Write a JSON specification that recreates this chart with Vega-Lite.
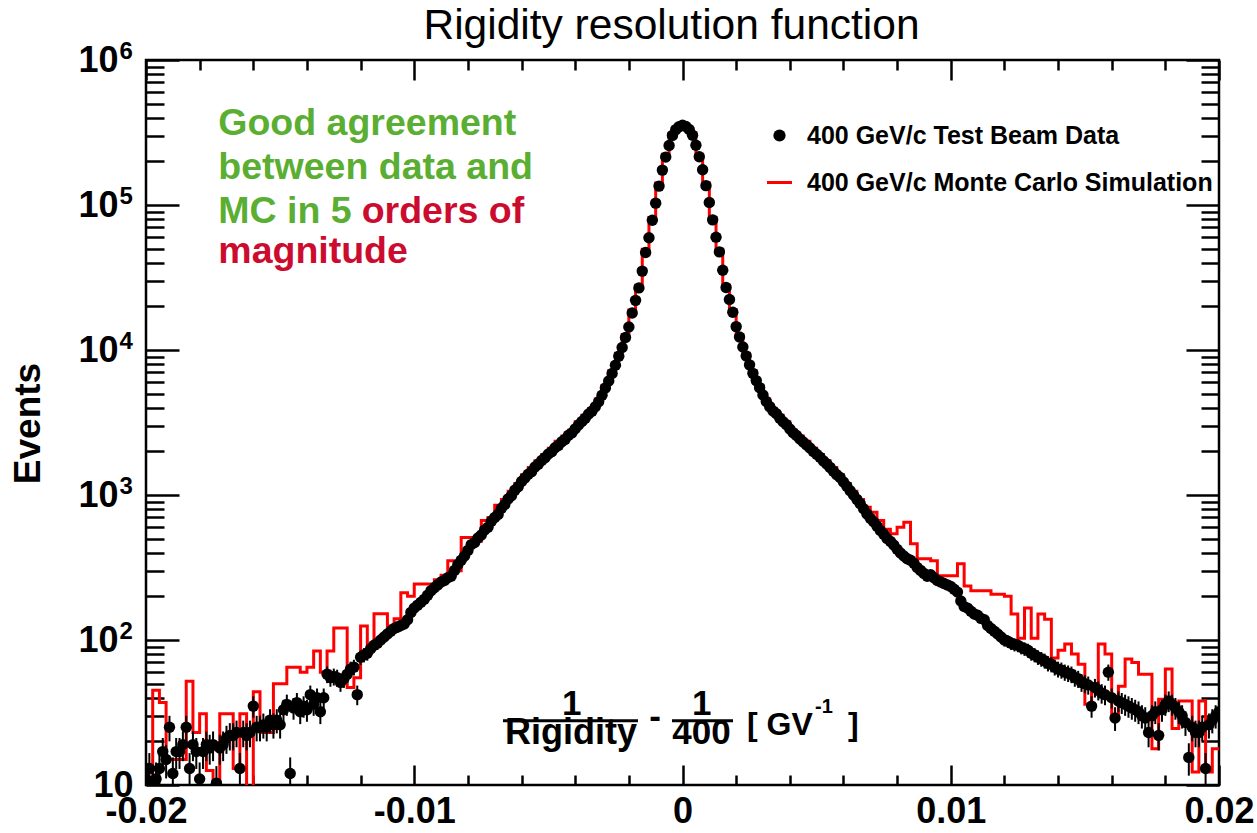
{
"$schema": "https://vega.github.io/schema/vega-lite/v6.json",
"width": 1073, "height": 725,
"autosize": "none",
"padding": {"left": 146, "top": 60, "right": 38, "bottom": 48},
"background": "white",
"config": {
  "view": {"stroke": "black", "strokeWidth": 2.5},
  "font": "Liberation Sans",
  "axis": {"domain": false, "grid": false, "tickColor": "black", "tickWidth": 2.5, "labelColor": "black", "labelFont": "Liberation Sans", "labelFontWeight": "bold", "labelFontSize": 36, "labelOverlap": false, "labelFlush": false, "titleColor": "black"}
},
"title": {"text": "Rigidity resolution function", "font": "Liberation Sans", "fontSize": 42.5, "fontWeight": "normal", "color": "black", "anchor": "middle", "frame": "group", "baseline": "alphabetic", "offset": -42, "dx": -11},
"datasets": {
"pts": [
{"x":-0.02,"y":11,"e":3.3},{"x":-0.019875,"y":13,"e":3.6},{"x":-0.01975,"y":10.5,"e":3.2},{"x":-0.019625,"y":11,"e":3.3},{"x":-0.0195,"y":13,"e":3.6},{"x":-0.019375,"y":17,"e":4.1},{"x":-0.01925,"y":15,"e":3.9},{"x":-0.019125,"y":25,"e":5},{"x":-0.019,"y":12,"e":3.5},{"x":-0.018875,"y":17,"e":4.1},{"x":-0.01875,"y":17,"e":4.1},{"x":-0.018625,"y":19,"e":4.4},{"x":-0.0185,"y":25,"e":5},{"x":-0.018375,"y":13,"e":3.6},{"x":-0.01825,"y":19,"e":4.4},{"x":-0.018125,"y":17,"e":4.1},{"x":-0.018,"y":11,"e":3.3},{"x":-0.017875,"y":17,"e":4.1},{"x":-0.01775,"y":19,"e":4.4},{"x":-0.017625,"y":18,"e":4.2},{"x":-0.0175,"y":19,"e":4.4},{"x":-0.017375,"y":10.3,"e":3.2},{"x":-0.01725,"y":18,"e":4.2},{"x":-0.017125,"y":19,"e":4.4},{"x":-0.017,"y":21,"e":4.6},{"x":-0.016875,"y":22,"e":4.7},{"x":-0.01675,"y":22,"e":4.7},{"x":-0.016625,"y":23,"e":4.8},{"x":-0.0165,"y":13,"e":3.6},{"x":-0.016375,"y":23,"e":4.8},{"x":-0.01625,"y":22,"e":4.7},{"x":-0.016125,"y":23,"e":4.8},{"x":-0.016,"y":35,"e":5.9},{"x":-0.015875,"y":25,"e":5},{"x":-0.01575,"y":25,"e":5},{"x":-0.015625,"y":26,"e":5.1},{"x":-0.0155,"y":25,"e":5},{"x":-0.015375,"y":28,"e":5.3},{"x":-0.01525,"y":26,"e":5.1},{"x":-0.015125,"y":28,"e":5.3},{"x":-0.015,"y":26,"e":5.1},{"x":-0.014875,"y":33,"e":5.7},{"x":-0.01475,"y":36,"e":6},{"x":-0.014625,"y":12,"e":3.5},{"x":-0.0145,"y":34,"e":5.8},{"x":-0.014375,"y":37,"e":6.1},{"x":-0.01425,"y":32,"e":5.7},{"x":-0.014125,"y":35,"e":5.9},{"x":-0.014,"y":33,"e":5.7},{"x":-0.013875,"y":42,"e":6.5},{"x":-0.01375,"y":36,"e":6},{"x":-0.013625,"y":40,"e":6.3},{"x":-0.0135,"y":32,"e":5.7},{"x":-0.013375,"y":40,"e":6.3},{"x":-0.01325,"y":58,"e":7.6},{"x":-0.013125,"y":55,"e":7.4},{"x":-0.013,"y":56,"e":7.5},{"x":-0.012875,"y":55,"e":7.4},{"x":-0.01275,"y":51,"e":7.1},{"x":-0.012625,"y":54,"e":7.3},{"x":-0.0125,"y":58,"e":7.6},{"x":-0.012375,"y":63,"e":7.9},{"x":-0.01225,"y":65,"e":8.1},{"x":-0.012125,"y":42,"e":6.5},{"x":-0.012,"y":76,"e":8.7},{"x":-0.011875,"y":79,"e":8.9},{"x":-0.01175,"y":81,"e":9},{"x":-0.011625,"y":87,"e":9.3},{"x":-0.0115,"y":92,"e":9.6},{"x":-0.011375,"y":95,"e":9.7},{"x":-0.01125,"y":100,"e":10},{"x":-0.011125,"y":105,"e":10.2},{"x":-0.011,"y":110,"e":10.5},{"x":-0.010875,"y":115,"e":10.7},{"x":-0.01075,"y":120,"e":11},{"x":-0.010625,"y":123,"e":11.1},{"x":-0.0105,"y":126,"e":11.2},
{"x":-0.010375,"y":129},{"x":-0.01025,"y":138},{"x":-0.010125,"y":155},{"x":-0.01,"y":166},{"x":-0.009875,"y":174},{"x":-0.00975,"y":182},{"x":-0.009625,"y":191},{"x":-0.0095,"y":204},{"x":-0.009375,"y":219},{"x":-0.00925,"y":229},{"x":-0.009125,"y":240},{"x":-0.009,"y":251},{"x":-0.008875,"y":257},{"x":-0.00875,"y":269},{"x":-0.008625,"y":275},{"x":-0.0085,"y":302},{"x":-0.008375,"y":331},{"x":-0.00825,"y":355},{"x":-0.008125,"y":380},{"x":-0.008,"y":415},{"x":-0.007875,"y":455},{"x":-0.00775,"y":470},{"x":-0.007625,"y":505},{"x":-0.0075,"y":530},{"x":-0.007375,"y":575},{"x":-0.00725,"y":600},{"x":-0.007125,"y":660},{"x":-0.007,"y":700},{"x":-0.006875,"y":735},{"x":-0.00675,"y":810},{"x":-0.006625,"y":860},{"x":-0.0065,"y":940},{"x":-0.006375,"y":990},{"x":-0.00625,"y":1080},{"x":-0.006125,"y":1140},{"x":-0.006,"y":1240},{"x":-0.005875,"y":1310},{"x":-0.00575,"y":1390},{"x":-0.005625,"y":1450},{"x":-0.0055,"y":1560},{"x":-0.005375,"y":1630},{"x":-0.00525,"y":1730},{"x":-0.005125,"y":1810},{"x":-0.005,"y":1920},{"x":-0.004875,"y":1990},{"x":-0.00475,"y":2120},{"x":-0.004625,"y":2200},{"x":-0.0045,"y":2330},{"x":-0.004375,"y":2420},{"x":-0.00425,"y":2580},{"x":-0.004125,"y":2680},{"x":-0.004,"y":2860},{"x":-0.003875,"y":3040},{"x":-0.00375,"y":3210},{"x":-0.003625,"y":3380},{"x":-0.0035,"y":3620},{"x":-0.003375,"y":3790},{"x":-0.00325,"y":4060},{"x":-0.003125,"y":4400},{"x":-0.003,"y":4880},{"x":-0.002875,"y":5480},{"x":-0.00275,"y":6120},{"x":-0.002625,"y":6880},{"x":-0.0025,"y":7850},{"x":-0.002375,"y":9050},{"x":-0.00225,"y":10400},{"x":-0.002125,"y":12200},{"x":-0.002,"y":14400},{"x":-0.001875,"y":18000},{"x":-0.00175,"y":22000},{"x":-0.001625,"y":26800},{"x":-0.0015,"y":35000},{"x":-0.001375,"y":47000},{"x":-0.00125,"y":59500},{"x":-0.001125,"y":78500},{"x":-0.001,"y":103000},{"x":-0.000875,"y":135000},{"x":-0.00075,"y":174000},{"x":-0.000625,"y":214000},{"x":-0.0005,"y":257000},{"x":-0.000375,"y":302000},{"x":-0.00025,"y":331000},{"x":-0.000125,"y":347000},
{"x":0,"y":355000},{"x":0.000125,"y":348000},{"x":0.00025,"y":332000},{"x":0.000375,"y":303000},{"x":0.0005,"y":258000},{"x":0.000625,"y":215000},{"x":0.00075,"y":175000},{"x":0.000875,"y":136000},{"x":0.001,"y":104000},{"x":0.001125,"y":79000},{"x":0.00125,"y":60000},{"x":0.001375,"y":47500},{"x":0.0015,"y":35500},{"x":0.001625,"y":27000},{"x":0.00175,"y":22300},{"x":0.001875,"y":18200},{"x":0.002,"y":14500},{"x":0.002125,"y":12300},{"x":0.00225,"y":10500},{"x":0.002375,"y":9100},{"x":0.0025,"y":7900},{"x":0.002625,"y":6900},{"x":0.00275,"y":6150},{"x":0.002875,"y":5500},{"x":0.003,"y":4900},{"x":0.003125,"y":4420},{"x":0.00325,"y":4070},{"x":0.003375,"y":3800},{"x":0.0035,"y":3630},{"x":0.003625,"y":3390},{"x":0.00375,"y":3200},{"x":0.003875,"y":3050},{"x":0.004,"y":2850},{"x":0.004125,"y":2690},{"x":0.00425,"y":2570},{"x":0.004375,"y":2430},{"x":0.0045,"y":2320},{"x":0.004625,"y":2210},{"x":0.00475,"y":2110},{"x":0.004875,"y":2000},{"x":0.005,"y":1910},{"x":0.005125,"y":1820},{"x":0.00525,"y":1720},{"x":0.005375,"y":1640},{"x":0.0055,"y":1550},{"x":0.005625,"y":1460},{"x":0.00575,"y":1380},{"x":0.005875,"y":1320},{"x":0.006,"y":1230},{"x":0.006125,"y":1150},{"x":0.00625,"y":1070},{"x":0.006375,"y":1000},{"x":0.0065,"y":933},{"x":0.006625,"y":871},{"x":0.00675,"y":804},{"x":0.006875,"y":741},{"x":0.007,"y":692},{"x":0.007125,"y":653},{"x":0.00725,"y":610},{"x":0.007375,"y":569},{"x":0.0075,"y":537},{"x":0.007625,"y":501},{"x":0.00775,"y":479},{"x":0.007875,"y":452},{"x":0.008,"y":422},{"x":0.008125,"y":398},{"x":0.00825,"y":380},{"x":0.008375,"y":363},{"x":0.0085,"y":355},{"x":0.008625,"y":339},{"x":0.00875,"y":316},{"x":0.008875,"y":302},{"x":0.009,"y":288},{"x":0.009125,"y":275},{"x":0.00925,"y":282},{"x":0.009375,"y":269},{"x":0.0095,"y":257},{"x":0.009625,"y":251},{"x":0.00975,"y":245},{"x":0.009875,"y":240},{"x":0.01,"y":234},{"x":0.010125,"y":224},{"x":0.01025,"y":214},{"x":0.010375,"y":186},{"x":0.0105,"y":170},{"x":0.010625,"y":166},{"x":0.01075,"y":158},{"x":0.010875,"y":151},{"x":0.011,"y":148},{"x":0.011125,"y":141},{"x":0.01125,"y":138},
{"x":0.011375,"y":126,"e":11.2},{"x":0.0115,"y":120,"e":11},{"x":0.011625,"y":115,"e":10.7},{"x":0.01175,"y":110,"e":10.5},{"x":0.011875,"y":105,"e":10.2},{"x":0.012,"y":100,"e":10},{"x":0.012125,"y":98,"e":9.9},{"x":0.01225,"y":95,"e":9.7},{"x":0.012375,"y":93,"e":9.6},{"x":0.0125,"y":92,"e":9.6},{"x":0.012625,"y":89,"e":9.4},{"x":0.01275,"y":87,"e":9.3},{"x":0.012875,"y":85,"e":9.2},{"x":0.013,"y":81,"e":9},{"x":0.013125,"y":79,"e":8.9},{"x":0.01325,"y":76,"e":8.7},{"x":0.013375,"y":74,"e":8.6},{"x":0.0135,"y":72,"e":8.5},{"x":0.013625,"y":69,"e":8.3},{"x":0.01375,"y":68,"e":8.2},{"x":0.013875,"y":65,"e":8.1},{"x":0.014,"y":63,"e":7.9},{"x":0.014125,"y":62,"e":7.9},{"x":0.01425,"y":60,"e":7.7},{"x":0.014375,"y":59,"e":7.7},{"x":0.0145,"y":58,"e":7.6},{"x":0.014625,"y":55,"e":7.4},{"x":0.01475,"y":54,"e":7.3},{"x":0.014875,"y":51,"e":7.1},{"x":0.015,"y":50,"e":7.1},{"x":0.015125,"y":49,"e":7},{"x":0.01525,"y":35,"e":5.9},{"x":0.015375,"y":47,"e":6.9},{"x":0.0155,"y":45,"e":6.7},{"x":0.015625,"y":43,"e":6.6},{"x":0.01575,"y":42,"e":6.5},{"x":0.015875,"y":60,"e":7.7},{"x":0.016,"y":40,"e":6.3},{"x":0.016125,"y":29,"e":5.4},{"x":0.01625,"y":38,"e":6.2},{"x":0.016375,"y":37,"e":6.1},{"x":0.0165,"y":36,"e":6},{"x":0.016625,"y":35,"e":5.9},{"x":0.01675,"y":34,"e":5.8},{"x":0.016875,"y":33,"e":5.7},{"x":0.017,"y":32,"e":5.7},{"x":0.017125,"y":30,"e":5.5},{"x":0.01725,"y":29,"e":5.4},{"x":0.017375,"y":23,"e":4.8},{"x":0.0175,"y":30,"e":5.5},{"x":0.017625,"y":32,"e":5.7},{"x":0.01775,"y":22,"e":4.7},{"x":0.017875,"y":33,"e":5.7},{"x":0.018,"y":36,"e":6},{"x":0.018125,"y":38,"e":6.2},{"x":0.01825,"y":36,"e":6},{"x":0.018375,"y":34,"e":5.8},{"x":0.0185,"y":32,"e":5.7},{"x":0.018625,"y":30,"e":5.5},{"x":0.01875,"y":27,"e":5.2},{"x":0.018875,"y":15.5,"e":3.9},{"x":0.019,"y":25,"e":5},{"x":0.019125,"y":23,"e":4.8},{"x":0.01925,"y":23,"e":4.8},{"x":0.019375,"y":25,"e":5},{"x":0.0195,"y":13,"e":3.6},{"x":0.019625,"y":26,"e":5.1},{"x":0.01975,"y":28,"e":5.3},{"x":0.019875,"y":30,"e":5.5},{"x":0.02,"y":32,"e":5.7}
],
"mc": [
{"x":-0.02,"y":5},{"x":-0.01975,"y":45},{"x":-0.0195,"y":37},{"x":-0.01925,"y":15},{"x":-0.019,"y":15},{"x":-0.01875,"y":15},{"x":-0.0185,"y":52},{"x":-0.01825,"y":23},{"x":-0.018,"y":31},{"x":-0.01775,"y":12.6},{"x":-0.0175,"y":5},{"x":-0.01725,"y":31},{"x":-0.017,"y":31},{"x":-0.01675,"y":13},{"x":-0.0165,"y":31},{"x":-0.01625,"y":5},{"x":-0.016,"y":44},{"x":-0.01575,"y":23},{"x":-0.0155,"y":23},{"x":-0.01525,"y":50},{"x":-0.015,"y":50},{"x":-0.01475,"y":65},{"x":-0.0145,"y":65},{"x":-0.01425,"y":60},{"x":-0.014,"y":65},{"x":-0.01375,"y":84},{"x":-0.0135,"y":60},{"x":-0.01325,"y":84},{"x":-0.013,"y":121},{"x":-0.01275,"y":121},{"x":-0.0125,"y":47},{"x":-0.01225,"y":55},{"x":-0.012,"y":125},{"x":-0.01175,"y":90},{"x":-0.0115,"y":152},{"x":-0.01125,"y":152},{"x":-0.011,"y":125},{"x":-0.01075,"y":140},{"x":-0.0105,"y":212},{"x":-0.01025,"y":200},{"x":-0.01,"y":243},{"x":-0.00975,"y":243},{"x":-0.0095,"y":243},{"x":-0.00925,"y":260},{"x":-0.009,"y":280},{"x":-0.00875,"y":352},{"x":-0.0085,"y":300},{"x":-0.00825,"y":510},{"x":-0.008,"y":510},{"x":-0.00775,"y":480},{"x":-0.0075,"y":666},{"x":-0.00725,"y":700},{"x":-0.007,"y":850},{"x":-0.00675,"y":930},{"x":-0.0065,"y":1060},{"x":-0.00625,"y":1200},{"x":-0.006,"y":1380},{"x":-0.00575,"y":1550},{"x":-0.0055,"y":1720},{"x":-0.00525,"y":1900},{"x":-0.005,"y":2100},{"x":-0.00475,"y":2350},{"x":-0.0045,"y":2550},{"x":-0.00425,"y":2800},{"x":-0.004,"y":3200},{"x":-0.00375,"y":3550},{"x":-0.0035,"y":3950},{"x":-0.00325,"y":4600},{"x":-0.003,"y":5700},{"x":-0.00275,"y":7200},{"x":-0.0025,"y":9500},{"x":-0.00225,"y":12800},{"x":-0.002,"y":18900},{"x":-0.00175,"y":28000},{"x":-0.0015,"y":49500},{"x":-0.00125,"y":82000},{"x":-0.001,"y":142000},{"x":-0.00075,"y":224000},{"x":-0.0005,"y":312000},{"x":-0.00025,"y":355000},
{"x":0,"y":355000},{"x":0.00025,"y":312000},{"x":0.0005,"y":224000},{"x":0.00075,"y":142000},{"x":0.001,"y":82000},{"x":0.00125,"y":49500},{"x":0.0015,"y":28000},{"x":0.00175,"y":18900},{"x":0.002,"y":12800},{"x":0.00225,"y":9500},{"x":0.0025,"y":7200},{"x":0.00275,"y":5700},{"x":0.003,"y":4600},{"x":0.00325,"y":3950},{"x":0.0035,"y":3550},{"x":0.00375,"y":3200},{"x":0.004,"y":2800},{"x":0.00425,"y":2550},{"x":0.0045,"y":2350},{"x":0.00475,"y":2100},{"x":0.005,"y":1900},{"x":0.00525,"y":1720},{"x":0.0055,"y":1550},{"x":0.00575,"y":1380},{"x":0.006,"y":1200},{"x":0.00625,"y":1060},{"x":0.0065,"y":930},{"x":0.00675,"y":824},{"x":0.007,"y":760},{"x":0.00725,"y":666},{"x":0.0075,"y":580},{"x":0.00775,"y":540},{"x":0.008,"y":600},{"x":0.00825,"y":649},{"x":0.0085,"y":461},{"x":0.00875,"y":363},{"x":0.009,"y":363},{"x":0.00925,"y":352},{"x":0.0095,"y":277},{"x":0.00975,"y":277},{"x":0.01,"y":277},{"x":0.01025,"y":336},{"x":0.0105,"y":236},{"x":0.01075,"y":219},{"x":0.011,"y":219},{"x":0.01125,"y":219},{"x":0.0115,"y":207},{"x":0.01175,"y":207},{"x":0.012,"y":200},{"x":0.01225,"y":151},{"x":0.0125,"y":103},{"x":0.01275,"y":166},{"x":0.013,"y":103},{"x":0.01325,"y":151},{"x":0.0135,"y":139},{"x":0.01375,"y":75},{"x":0.014,"y":85},{"x":0.01425,"y":94},{"x":0.0145,"y":80},{"x":0.01475,"y":68},{"x":0.015,"y":36},{"x":0.01525,"y":48},{"x":0.0155,"y":94},{"x":0.01575,"y":80},{"x":0.016,"y":29},{"x":0.01625,"y":48},{"x":0.0165,"y":74},{"x":0.01675,"y":70},{"x":0.017,"y":58},{"x":0.01725,"y":58},{"x":0.0175,"y":17.8},{"x":0.01775,"y":39},{"x":0.018,"y":63},{"x":0.01825,"y":24.5},{"x":0.0185,"y":38},{"x":0.01875,"y":38},{"x":0.019,"y":12.3},{"x":0.01925,"y":38},{"x":0.0195,"y":12.3},{"x":0.01975,"y":17.8},{"x":0.02,"y":17.8}
]
},
"layer": [
{
  "data": {"name": "mc"},
  "mark": {"type": "line", "interpolate": "step-after", "strokeWidth": 3, "clip": true},
  "encoding": {
    "x": {"field": "x", "type": "quantitative", "scale": {"domain": [-0.02, 0.02], "nice": false, "zero": false},
      "axis": {"orient": "bottom", "values": [-0.02,-0.018,-0.016,-0.014,-0.012,-0.01,-0.008,-0.006,-0.004,-0.002,0,0.002,0.004,0.006,0.008,0.01,0.012,0.014,0.016,0.018,0.02],
        "tickSize": {"condition": {"test": "abs(datum.value*100 - round(datum.value*100)) < 0.0001", "value": -20}, "value": -10},
        "labelExpr": "abs(datum.value*100 - round(datum.value*100)) < 0.0001 ? (abs(datum.value) < 0.0001 ? '0' : replace(format(datum.value, '.2f'), '\u2212', '-')) : ''",
        "labelPadding": 29, "labelBaseline": "top", "labelAlign": "center", "title": null}},
    "y": {"field": "y", "type": "quantitative", "scale": {"type": "log", "domain": [10, 1000000], "nice": false},
      "axis": {"orient": "left", "values": [10,20,30,40,50,60,70,80,90,100,200,300,400,500,600,700,800,900,1000,2000,3000,4000,5000,6000,7000,8000,9000,10000,20000,30000,40000,50000,60000,70000,80000,90000,100000,200000,300000,400000,500000,600000,700000,800000,900000,1000000],
        "tickSize": {"condition": {"test": "indexof([10,100,1000,10000,100000,1000000], datum.value) >= 0", "value": -33}, "value": -18},
        "labelExpr": "indexof([10,100,1000,10000,100000,1000000], datum.value) >= 0 ? '10' : ''",
        "labelPadding": {"condition": {"test": "datum.value == 10", "value": 46}, "value": 61},
        "labelAlign": "right", "labelBaseline": "middle",
        "title": "Events", "titleFont": "Liberation Sans", "titleFontSize": 37, "titleFontWeight": "bold", "titleAngle": 270, "titleX": -107, "titleY": 363, "titleBaseline": "alphabetic", "titleAlign": "center"}},
    "color": {"datum": "400 GeV/c Monte Carlo Simulation",
      "scale": {"domain": ["400 GeV/c Test Beam Data", "400 GeV/c Monte Carlo Simulation"], "range": ["black", "#ff0000"]},
      "legend": {"orient": "none", "legendX": 621, "legendY": 63, "title": null, "padding": 0,
        "labelFont": "Liberation Sans", "labelFontSize": 25, "labelFontWeight": "bold", "labelColor": "black", "labelOffset": 15, "labelLimit": 800,
        "rowPadding": 21, "symbolSize": 625,
        "encode": {"symbols": {"update": {
          "shape": {"signal": "datum.value === '400 GeV/c Test Beam Data' ? 'circle' : 'stroke'"},
          "size": {"signal": "datum.value === '400 GeV/c Test Beam Data' ? 150 : 625"},
          "fill": {"signal": "datum.value === '400 GeV/c Test Beam Data' ? 'black' : 'transparent'"},
          "stroke": {"signal": "datum.value === '400 GeV/c Test Beam Data' ? 'black' : '#ff0000'"},
          "strokeWidth": {"signal": "datum.value === '400 GeV/c Test Beam Data' ? 0 : 3"},
          "opacity": {"value": 1}}}}}}
  }
},
{
  "data": {"name": "pts"},
  "transform": [{"filter": "isValid(datum.e)"}],
  "mark": {"type": "errorbar", "color": "black", "thickness": 2, "clip": true},
  "encoding": {
    "x": {"field": "x", "type": "quantitative", "axis": null},
    "y": {"field": "y", "type": "quantitative",
      "axis": {"orient": "left", "values": [100, 1000, 10000, 100000, 1000000], "ticks": false,
        "labelExpr": "datum.value == 100 ? '2' : datum.value == 1000 ? '3' : datum.value == 10000 ? '4' : datum.value == 100000 ? '5' : '6'",
        "labelFontSize": 24, "labelAlign": "left", "labelBaseline": "middle", "labelPadding": 27, "labelOffset": -9, "title": null}},
    "yError": {"field": "e"}
  }
},
{
  "data": {"name": "pts"},
  "mark": {"type": "point", "shape": "circle", "filled": true, "size": 130, "opacity": 1, "clip": true},
  "encoding": {
    "x": {"field": "x", "type": "quantitative",
      "axis": {"orient": "top", "values": [-0.02,-0.018,-0.016,-0.014,-0.012,-0.01,-0.008,-0.006,-0.004,-0.002,0,0.002,0.004,0.006,0.008,0.01,0.012,0.014,0.016,0.018,0.02],
        "tickSize": {"condition": {"test": "abs(datum.value*100 - round(datum.value*100)) < 0.0001", "value": -20}, "value": -10},
        "labels": false, "title": null}},
    "y": {"field": "y", "type": "quantitative",
      "axis": {"orient": "right", "values": [10,20,30,40,50,60,70,80,90,100,200,300,400,500,600,700,800,900,1000,2000,3000,4000,5000,6000,7000,8000,9000,10000,20000,30000,40000,50000,60000,70000,80000,90000,100000,200000,300000,400000,500000,600000,700000,800000,900000,1000000],
        "tickSize": {"condition": {"test": "indexof([10,100,1000,10000,100000,1000000], datum.value) >= 0", "value": -33}, "value": -18},
        "labels": false, "title": null}},
    "color": {"datum": "400 GeV/c Test Beam Data"}
  }
},
{
  "data": {"values": [{}]},
  "mark": {"type": "text", "text": ["Good agreement", "between data and", "MC in 5"], "align": "left", "baseline": "alphabetic", "font": "Liberation Sans", "fontWeight": "bold", "fontSize": 37.5, "lineHeight": 44, "color": "#5aae32"},
  "encoding": {"x": {"datum": -0.017305, "axis": null}, "y": {"datum": 303900, "axis": null}}
},
{
  "data": {"values": [{}]},
  "mark": {"type": "text", "text": "orders of", "align": "left", "baseline": "alphabetic", "font": "Liberation Sans", "fontWeight": "bold", "fontSize": 37.5, "color": "#cc0c2f"},
  "encoding": {"x": {"datum": -0.011959, "axis": null}, "y": {"datum": 74790, "axis": null}}
},
{
  "data": {"values": [{}]},
  "mark": {"type": "text", "text": "magnitude", "align": "left", "baseline": "alphabetic", "font": "Liberation Sans", "fontWeight": "bold", "fontSize": 37.5, "color": "#cc0c2f"},
  "encoding": {"x": {"datum": -0.017305, "axis": null}, "y": {"datum": 39630, "axis": null}}
},
{
  "data": {"values": [{}]},
  "mark": {"type": "text", "text": "1", "align": "center", "baseline": "alphabetic", "font": "Liberation Sans", "fontWeight": "bold", "fontSize": 35, "color": "black"},
  "encoding": {"x": {"datum": -0.00413, "axis": null}, "y": {"datum": 30.5, "axis": null}}
},
{
  "data": {"values": [{}]},
  "mark": {"type": "text", "text": "Rigidity", "align": "center", "baseline": "alphabetic", "font": "Liberation Sans", "fontWeight": "bold", "fontSize": 36, "color": "black"},
  "encoding": {"x": {"datum": -0.004157, "axis": null}, "y": {"datum": 19.18, "axis": null}}
},
{
  "data": {"values": [{}]},
  "mark": {"type": "rule", "strokeWidth": 3, "color": "black"},
  "encoding": {"x": {"datum": -0.006692, "axis": null}, "x2": {"datum": -0.001659}, "y": {"datum": 27.76, "axis": null}}
},
{
  "data": {"values": [{}]},
  "mark": {"type": "text", "text": "-", "align": "center", "baseline": "alphabetic", "font": "Liberation Sans", "fontWeight": "bold", "fontSize": 35, "color": "black"},
  "encoding": {"x": {"datum": -0.001025, "axis": null}, "y": {"datum": 24.73, "axis": null}}
},
{
  "data": {"values": [{}]},
  "mark": {"type": "text", "text": "1", "align": "center", "baseline": "alphabetic", "font": "Liberation Sans", "fontWeight": "bold", "fontSize": 35, "color": "black"},
  "encoding": {"x": {"datum": 0.000716, "axis": null}, "y": {"datum": 30.5, "axis": null}}
},
{
  "data": {"values": [{}]},
  "mark": {"type": "text", "text": "400", "align": "center", "baseline": "alphabetic", "font": "Liberation Sans", "fontWeight": "bold", "fontSize": 35, "color": "black"},
  "encoding": {"x": {"datum": 0.000708, "axis": null}, "y": {"datum": 19.18, "axis": null}}
},
{
  "data": {"values": [{}]},
  "mark": {"type": "rule", "strokeWidth": 3, "color": "black"},
  "encoding": {"x": {"datum": -0.000391, "axis": null}, "x2": {"datum": 0.001883}, "y": {"datum": 27.76, "axis": null}}
},
{
  "data": {"values": [{}]},
  "mark": {"type": "text", "text": "[ GV", "align": "left", "baseline": "alphabetic", "font": "Liberation Sans", "fontWeight": "bold", "fontSize": 32, "color": "black"},
  "encoding": {"x": {"datum": 0.002404, "axis": null}, "y": {"datum": 22.12, "axis": null}}
},
{
  "data": {"values": [{}]},
  "mark": {"type": "text", "text": "-1", "align": "left", "baseline": "alphabetic", "font": "Liberation Sans", "fontWeight": "bold", "fontSize": 20, "color": "black"},
  "encoding": {"x": {"datum": 0.004939, "axis": null}, "y": {"datum": 31.37, "axis": null}}
},
{
  "data": {"values": [{}]},
  "mark": {"type": "text", "text": "]", "align": "left", "baseline": "alphabetic", "font": "Liberation Sans", "fontWeight": "bold", "fontSize": 32, "color": "black"},
  "encoding": {"x": {"datum": 0.006169, "axis": null}, "y": {"datum": 22.12, "axis": null}}
}
],
"resolve": {"axis": {"x": "independent", "y": "independent"}}
}
